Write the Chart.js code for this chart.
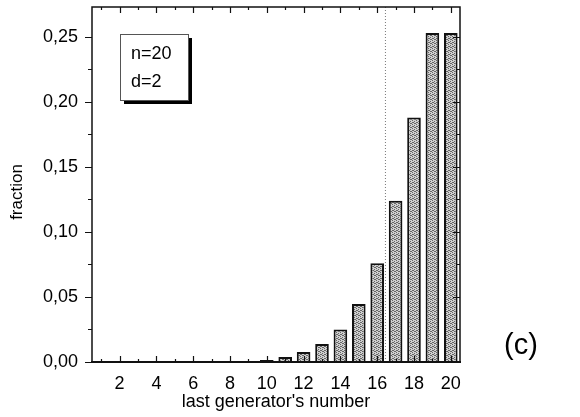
<!DOCTYPE html>
<html>
<head>
    <title>last generator's number</title>
    <style>
        body { margin: 0; background: #fff; }
        #wrap { width: 580px; height: 417px; position: relative; }
    </style>
</head>
<body>
    <div id="wrap"><canvas id="graph" width="580" height="417"></canvas></div>

    <script src="https://cdn.jsdelivr.net/npm/chart.js"></script>
    <script>
        // data
        const generatorNumbers = ['1','2','3','4','5','6','7','8','9','10','11','12','13','14','15','16','17','18','19','20'];
        const fractions = [0.0001, 0.0001, 0.0001, 0.0001, 0.0001, 0.0001, 0.0002, 0.0003, 0.0007, 0.0015,
                           0.0038, 0.0077, 0.0138, 0.025, 0.0446, 0.076, 0.124, 0.188, 0.253, 0.253];
        const yMax = 0.273;
        const yStep = 0.05;
        const markerAt = 16.42;       // dotted vertical line, in generator-number units
        const boxLines = ['n=20', 'd=2'];
        const panelLabel = '(c)';
        const yTitle = 'fraction';

        const FONT = 'Arial, "Liberation Sans", sans-serif';

        // stippled grey fill like the printed bars
        function makePattern() {
            const c = document.createElement('canvas');
            c.width = 4; c.height = 4;
            const g = c.getContext('2d');
            g.fillStyle = '#cfcfcf';
            g.fillRect(0, 0, 4, 4);
            g.fillStyle = '#666';
            [[0,0],[2,1],[1,2],[3,3],[2,3],[0,2]].forEach(p => g.fillRect(p[0], p[1], 1, 1));
            return g.createPattern(c, 'repeat');
        }

        // frame, tick marks, dotted line, text box, y title and (c)
        const decorations = {
            id: 'decorations',
            beforeDatasetsDraw(chart) {
                const ctx = chart.ctx;
                const x = chart.scales.x, a = chart.chartArea;
                const step = x.getPixelForValue(1) - x.getPixelForValue(0);
                const px = x.getPixelForValue(0) + (markerAt - 1) * step;
                ctx.save();
                ctx.strokeStyle = '#777';
                ctx.lineWidth = 1;
                ctx.setLineDash([1, 2]);
                ctx.beginPath();
                ctx.moveTo(px + 0.5, a.top);
                ctx.lineTo(px + 0.5, a.bottom);
                ctx.stroke();
                ctx.restore();
            },
            afterDraw(chart) {
                const ctx = chart.ctx;
                const a = chart.chartArea;
                const x = chart.scales.x, y = chart.scales.y;
                ctx.save();
                ctx.strokeStyle = '#111';
                ctx.lineWidth = 1.5;
                ctx.strokeRect(a.left, a.top, a.right - a.left, a.bottom - a.top);
                ctx.lineWidth = 2;
                ctx.beginPath();
                ctx.moveTo(a.left - 1, a.bottom);
                ctx.lineTo(a.right + 1, a.bottom);
                ctx.stroke();

                // y ticks: outward on the left, inward on the right
                ctx.lineWidth = 1.2;
                for (let v = 0; v <= yMax + 1e-9; v += yStep / 2) {
                    const py = Math.round(y.getPixelForValue(v)) + 0.5;
                    const major = Math.abs(v / yStep - Math.round(v / yStep)) < 1e-6;
                    const len = major ? 7 : 4;
                    ctx.beginPath();
                    ctx.moveTo(a.left - len, py);
                    ctx.lineTo(a.left, py);
                    ctx.moveTo(a.right, py);
                    ctx.lineTo(a.right - len, py);
                    ctx.stroke();
                }
                // x ticks: inward on bottom and top
                generatorNumbers.forEach((lab, i) => {
                    const pxl = Math.round(x.getPixelForValue(i)) + 0.5;
                    const major = (i + 1) % 2 === 0;
                    const len = major ? 6 : 3;
                    ctx.beginPath();
                    ctx.moveTo(pxl, a.bottom);
                    ctx.lineTo(pxl, a.bottom - len);
                    ctx.moveTo(pxl, a.top);
                    ctx.lineTo(pxl, a.top + len);
                    ctx.stroke();
                });

                // text box with shadow
                const bx = 120, by = 34, bw = 68, bh = 66;
                ctx.fillStyle = '#000';
                ctx.fillRect(bx + 4, by + 4, bw, bh);
                ctx.fillStyle = '#fff';
                ctx.fillRect(bx, by, bw, bh);
                ctx.lineWidth = 1;
                ctx.strokeStyle = '#555';
                ctx.strokeRect(bx + 0.5, by + 0.5, bw, bh);
                ctx.fillStyle = '#000';
                ctx.font = '18px ' + FONT;
                ctx.textBaseline = 'middle';
                ctx.textAlign = 'left';
                boxLines.forEach((t, i) => ctx.fillText(t, bx + 11, by + 20 + i * 28));

                // rotated y title, sits a little below the axis middle
                ctx.save();
                ctx.translate(17, 192);
                ctx.rotate(-Math.PI / 2);
                ctx.textAlign = 'center';
                ctx.font = '17px ' + FONT;
                ctx.fillText(yTitle, 0, 0);
                ctx.restore();

                ctx.font = '29px ' + FONT;
                ctx.textAlign = 'center';
                ctx.fillText(panelLabel, 521, 346);
                ctx.restore();
            }
        };

        new Chart(document.getElementById('graph'), {
            type: 'bar',
            data: {
                labels: generatorNumbers,
                datasets: [{
                    data: fractions,
                    backgroundColor: makePattern(),
                    borderColor: '#111',
                    borderWidth: 2,
                    borderSkipped: 'bottom',
                    barPercentage: 0.74,
                    categoryPercentage: 1
                }]
            },
            options: {
                responsive: false,
                animation: false,
                layout: { padding: { left: 0, right: 120, top: 7, bottom: 0 } },
                plugins: { legend: { display: false }, tooltip: { enabled: false } },
                scales: {
                    x: {
                        grid: { display: false },
                        border: { display: false },
                        ticks: {
                            color: '#000',
                            font: { family: FONT, size: 18 },
                            padding: 3,
                            maxRotation: 0,
                            autoSkip: false,
                            callback: (v, i) => ((i + 1) % 2 === 0 ? generatorNumbers[i] : '')
                        },
                        title: {
                            display: true,
                            text: "last generator's number",
                            color: '#000',
                            font: { family: FONT, size: 18 },
                            padding: { top: 0, bottom: 4 }
                        },
                        afterFit: s => { s.height = 55; }
                    },
                    y: {
                        min: 0,
                        max: yMax,
                        grid: { display: false },
                        border: { display: false },
                        ticks: {
                            stepSize: yStep,
                            color: '#000',
                            font: { family: FONT, size: 18 },
                            padding: 6,
                            callback: v => v.toFixed(2).replace('.', ',')
                        },
                        afterBuildTicks: s => {
                            s.ticks = s.ticks.filter(t => Math.abs(t.value / yStep - Math.round(t.value / yStep)) < 1e-6);
                        },
                        afterFit: s => { s.width = 92; s.paddingTop = 0; }
                    }
                }
            },
            plugins: [decorations]
        });
    </script>
</body>
</html>
